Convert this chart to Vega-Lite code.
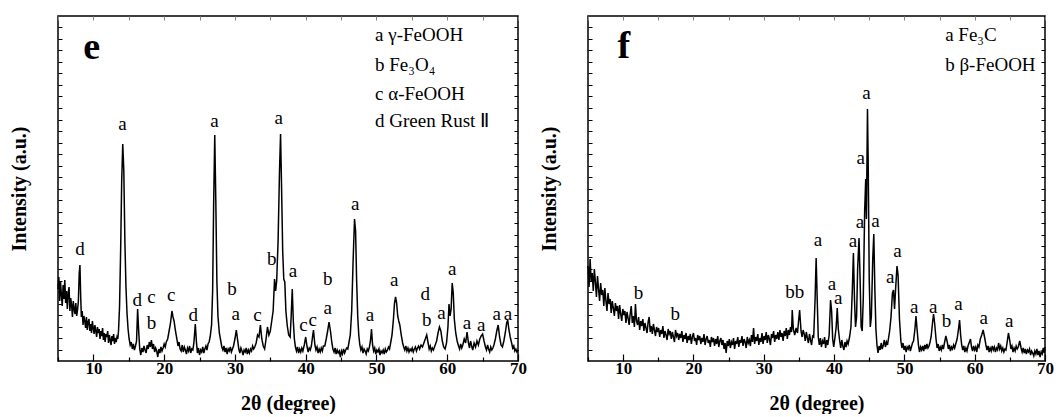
{
"$schema": "https://vega.github.io/schema/vega-lite/v6.json",
"background": "white",
"padding": {"left": 8, "top": 14, "right": 0, "bottom": 0},
"bounds": "flush",
"spacing": 70,
"config": {"view": {"stroke": "black", "strokeWidth": 1.5}, "axis": {"domain": false, "grid": false}, "text": {"font": "Liberation Serif"}},
"datasets": {
"specE": [
{"t":5.0,"i":72},{"t":5.12,"i":84},{"t":5.24,"i":60},{"t":5.36,"i":79},{"t":5.48,"i":66},{"t":5.6,"i":55},{"t":5.72,"i":76},{"t":5.84,"i":62},{"t":5.96,"i":81},{"t":6.08,"i":58},{"t":6.2,"i":70},{"t":6.32,"i":52},{"t":6.44,"i":68},{"t":6.56,"i":74},{"t":6.68,"i":50},{"t":6.8,"i":63},{"t":6.92,"i":56},{"t":7.04,"i":44},{"t":7.16,"i":60},{"t":7.28,"i":52},{"t":7.4,"i":47},{"t":7.52,"i":58},{"t":7.64,"i":45},{"t":7.76,"i":51},{"t":7.88,"i":60},{"t":8.0,"i":88},{"t":8.1,"i":96},{"t":8.2,"i":66},{"t":8.3,"i":44},{"t":8.42,"i":50},{"t":8.54,"i":36},{"t":8.66,"i":45},{"t":8.78,"i":40},{"t":8.9,"i":33},{"t":9.02,"i":44},{"t":9.14,"i":31},{"t":9.26,"i":39},{"t":9.38,"i":42},{"t":9.5,"i":30},{"t":9.62,"i":37},{"t":9.74,"i":28},{"t":9.86,"i":40},{"t":9.98,"i":33},{"t":10.1,"i":27},{"t":10.22,"i":36},{"t":10.34,"i":30},{"t":10.46,"i":24},{"t":10.58,"i":34},{"t":10.7,"i":28},{"t":10.82,"i":32},{"t":10.94,"i":22},{"t":11.06,"i":30},{"t":11.18,"i":25},{"t":11.3,"i":33},{"t":11.42,"i":21},{"t":11.54,"i":28},{"t":11.66,"i":19},{"t":11.78,"i":27},{"t":11.9,"i":24},{"t":12.02,"i":30},{"t":12.14,"i":18},{"t":12.26,"i":26},{"t":12.38,"i":21},{"t":12.5,"i":16},{"t":12.62,"i":25},{"t":12.74,"i":20},{"t":12.86,"i":27},{"t":12.98,"i":17},{"t":13.1,"i":23},{"t":13.22,"i":19},{"t":13.34,"i":24},{"t":13.45,"i":22},{"t":13.55,"i":30},{"t":13.7,"i":55},{"t":13.85,"i":110},{"t":14.0,"i":180},{"t":14.15,"i":217},{"t":14.3,"i":190},{"t":14.45,"i":120},{"t":14.6,"i":75},{"t":14.75,"i":48},{"t":14.9,"i":32},{"t":15.05,"i":22},{"t":15.2,"i":16},{"t":15.35,"i":19},{"t":15.5,"i":12},{"t":15.65,"i":17},{"t":15.8,"i":11},{"t":15.95,"i":15},{"t":16.1,"i":20},{"t":16.25,"i":52},{"t":16.4,"i":30},{"t":16.55,"i":12},{"t":16.7,"i":6},{"t":16.85,"i":13},{"t":17.0,"i":9},{"t":17.15,"i":15},{"t":17.3,"i":11},{"t":17.45,"i":8},{"t":17.6,"i":16},{"t":17.75,"i":12},{"t":17.9,"i":19},{"t":18.05,"i":14},{"t":18.2,"i":21},{"t":18.35,"i":12},{"t":18.5,"i":17},{"t":18.65,"i":9},{"t":18.8,"i":13},{"t":18.95,"i":10},{"t":19.1,"i":4},{"t":19.25,"i":12},{"t":19.4,"i":8},{"t":19.55,"i":14},{"t":19.7,"i":10},{"t":19.85,"i":13},{"t":20.0,"i":17},{"t":20.15,"i":14},{"t":20.3,"i":19},{"t":20.5,"i":22},{"t":20.7,"i":30},{"t":20.9,"i":38},{"t":21.1,"i":50},{"t":21.25,"i":44},{"t":21.4,"i":40},{"t":21.6,"i":30},{"t":21.8,"i":22},{"t":21.95,"i":15},{"t":22.1,"i":19},{"t":22.25,"i":12},{"t":22.4,"i":10},{"t":22.55,"i":16},{"t":22.7,"i":9},{"t":22.85,"i":14},{"t":23.0,"i":11},{"t":23.15,"i":7},{"t":23.3,"i":13},{"t":23.45,"i":10},{"t":23.6,"i":15},{"t":23.75,"i":8},{"t":23.9,"i":12},{"t":24.05,"i":11},{"t":24.2,"i":18},{"t":24.4,"i":37},{"t":24.55,"i":20},{"t":24.7,"i":8},{"t":24.85,"i":13},{"t":25.0,"i":6},{"t":25.15,"i":11},{"t":25.3,"i":9},{"t":25.45,"i":14},{"t":25.6,"i":8},{"t":25.75,"i":12},{"t":25.9,"i":15},{"t":26.05,"i":11},{"t":26.2,"i":17},{"t":26.35,"i":19},{"t":26.5,"i":24},{"t":26.7,"i":36},{"t":26.85,"i":70},{"t":27.0,"i":160},{"t":27.15,"i":226},{"t":27.3,"i":160},{"t":27.45,"i":80},{"t":27.6,"i":45},{"t":27.8,"i":28},{"t":28.0,"i":20},{"t":28.15,"i":14},{"t":28.3,"i":11},{"t":28.45,"i":15},{"t":28.6,"i":9},{"t":28.75,"i":13},{"t":28.9,"i":7},{"t":29.05,"i":12},{"t":29.2,"i":10},{"t":29.35,"i":14},{"t":29.5,"i":9},{"t":29.65,"i":12},{"t":29.8,"i":15},{"t":30.0,"i":22},{"t":30.2,"i":31},{"t":30.4,"i":20},{"t":30.55,"i":12},{"t":30.7,"i":8},{"t":30.85,"i":13},{"t":31.0,"i":10},{"t":31.15,"i":6},{"t":31.3,"i":11},{"t":31.45,"i":9},{"t":31.6,"i":13},{"t":31.75,"i":7},{"t":31.9,"i":11},{"t":32.05,"i":8},{"t":32.2,"i":12},{"t":32.35,"i":10},{"t":32.5,"i":15},{"t":32.65,"i":12},{"t":32.8,"i":14},{"t":33.0,"i":18},{"t":33.2,"i":26},{"t":33.4,"i":24},{"t":33.6,"i":36},{"t":33.8,"i":22},{"t":34.0,"i":15},{"t":34.2,"i":12},{"t":34.4,"i":22},{"t":34.6,"i":34},{"t":34.8,"i":26},{"t":35.0,"i":30},{"t":35.2,"i":40},{"t":35.4,"i":50},{"t":35.6,"i":82},{"t":35.75,"i":70},{"t":35.9,"i":80},{"t":36.1,"i":120},{"t":36.3,"i":190},{"t":36.45,"i":227},{"t":36.6,"i":170},{"t":36.75,"i":110},{"t":36.9,"i":82},{"t":37.05,"i":79},{"t":37.2,"i":50},{"t":37.4,"i":35},{"t":37.6,"i":26},{"t":37.8,"i":24},{"t":37.95,"i":45},{"t":38.1,"i":72},{"t":38.25,"i":40},{"t":38.4,"i":22},{"t":38.55,"i":14},{"t":38.7,"i":10},{"t":38.85,"i":14},{"t":39.0,"i":8},{"t":39.15,"i":12},{"t":39.3,"i":9},{"t":39.45,"i":13},{"t":39.6,"i":10},{"t":39.8,"i":16},{"t":40.0,"i":24},{"t":40.2,"i":14},{"t":40.35,"i":9},{"t":40.5,"i":13},{"t":40.65,"i":11},{"t":40.8,"i":15},{"t":41.0,"i":26},{"t":41.1,"i":31},{"t":41.3,"i":16},{"t":41.45,"i":11},{"t":41.6,"i":14},{"t":41.75,"i":8},{"t":41.9,"i":12},{"t":42.05,"i":9},{"t":42.2,"i":13},{"t":42.35,"i":10},{"t":42.5,"i":15},{"t":42.7,"i":15},{"t":42.9,"i":22},{"t":43.1,"i":30},{"t":43.3,"i":39},{"t":43.5,"i":30},{"t":43.7,"i":18},{"t":43.85,"i":12},{"t":44.0,"i":9},{"t":44.15,"i":13},{"t":44.3,"i":7},{"t":44.45,"i":11},{"t":44.6,"i":8},{"t":44.75,"i":10},{"t":44.9,"i":4},{"t":45.05,"i":10},{"t":45.2,"i":7},{"t":45.35,"i":12},{"t":45.5,"i":8},{"t":45.65,"i":11},{"t":45.8,"i":13},{"t":45.95,"i":12},{"t":46.1,"i":18},{"t":46.3,"i":26},{"t":46.5,"i":50},{"t":46.7,"i":100},{"t":46.9,"i":142},{"t":47.05,"i":130},{"t":47.2,"i":80},{"t":47.35,"i":45},{"t":47.5,"i":26},{"t":47.65,"i":16},{"t":47.8,"i":11},{"t":47.95,"i":14},{"t":48.1,"i":8},{"t":48.25,"i":12},{"t":48.4,"i":10},{"t":48.55,"i":7},{"t":48.7,"i":12},{"t":48.85,"i":10},{"t":49.0,"i":14},{"t":49.15,"i":20},{"t":49.3,"i":32},{"t":49.45,"i":16},{"t":49.6,"i":10},{"t":49.75,"i":13},{"t":49.9,"i":7},{"t":50.05,"i":11},{"t":50.2,"i":9},{"t":50.35,"i":12},{"t":50.5,"i":6},{"t":50.65,"i":10},{"t":50.8,"i":8},{"t":50.95,"i":11},{"t":51.1,"i":7},{"t":51.25,"i":12},{"t":51.4,"i":9},{"t":51.55,"i":11},{"t":51.7,"i":14},{"t":51.85,"i":12},{"t":52.0,"i":18},{"t":52.2,"i":26},{"t":52.4,"i":42},{"t":52.55,"i":58},{"t":52.7,"i":64},{"t":52.85,"i":58},{"t":53.0,"i":45},{"t":53.15,"i":40},{"t":53.3,"i":36},{"t":53.5,"i":26},{"t":53.7,"i":18},{"t":53.85,"i":14},{"t":54.0,"i":11},{"t":54.15,"i":15},{"t":54.3,"i":10},{"t":54.45,"i":13},{"t":54.6,"i":9},{"t":54.75,"i":12},{"t":54.9,"i":10},{"t":55.05,"i":13},{"t":55.2,"i":9},{"t":55.35,"i":12},{"t":55.5,"i":14},{"t":55.65,"i":10},{"t":55.8,"i":13},{"t":55.95,"i":15},{"t":56.1,"i":12},{"t":56.3,"i":16},{"t":56.5,"i":14},{"t":56.7,"i":18},{"t":56.9,"i":22},{"t":57.1,"i":26},{"t":57.3,"i":18},{"t":57.45,"i":12},{"t":57.6,"i":15},{"t":57.75,"i":10},{"t":57.9,"i":13},{"t":58.05,"i":11},{"t":58.2,"i":14},{"t":58.35,"i":17},{"t":58.5,"i":20},{"t":58.7,"i":28},{"t":58.9,"i":34},{"t":59.1,"i":30},{"t":59.3,"i":20},{"t":59.5,"i":14},{"t":59.7,"i":12},{"t":59.9,"i":18},{"t":60.1,"i":34},{"t":60.25,"i":57},{"t":60.4,"i":45},{"t":60.55,"i":52},{"t":60.7,"i":78},{"t":60.85,"i":68},{"t":61.0,"i":42},{"t":61.2,"i":28},{"t":61.4,"i":20},{"t":61.6,"i":15},{"t":61.75,"i":12},{"t":61.9,"i":17},{"t":62.05,"i":13},{"t":62.2,"i":16},{"t":62.4,"i":22},{"t":62.6,"i":18},{"t":62.8,"i":29},{"t":63.0,"i":18},{"t":63.15,"i":13},{"t":63.3,"i":20},{"t":63.45,"i":15},{"t":63.6,"i":11},{"t":63.8,"i":18},{"t":64.0,"i":14},{"t":64.2,"i":20},{"t":64.4,"i":16},{"t":64.6,"i":22},{"t":64.8,"i":25},{"t":65.0,"i":27},{"t":65.2,"i":20},{"t":65.4,"i":14},{"t":65.55,"i":11},{"t":65.7,"i":16},{"t":65.85,"i":12},{"t":66.0,"i":9},{"t":66.15,"i":14},{"t":66.3,"i":11},{"t":66.45,"i":13},{"t":66.6,"i":16},{"t":66.8,"i":22},{"t":67.0,"i":30},{"t":67.2,"i":36},{"t":67.4,"i":24},{"t":67.6,"i":16},{"t":67.8,"i":14},{"t":68.0,"i":20},{"t":68.2,"i":28},{"t":68.4,"i":38},{"t":68.55,"i":41},{"t":68.7,"i":32},{"t":68.9,"i":24},{"t":69.1,"i":18},{"t":69.25,"i":13},{"t":69.4,"i":15},{"t":69.55,"i":10},{"t":69.7,"i":12},{"t":69.85,"i":9},{"t":70.0,"i":11}
],
"specF": [
{"t":5.0,"i":95},{"t":5.15,"i":74},{"t":5.3,"i":102},{"t":5.45,"i":80},{"t":5.6,"i":88},{"t":5.75,"i":70},{"t":5.9,"i":92},{"t":6.05,"i":79},{"t":6.2,"i":64},{"t":6.35,"i":85},{"t":6.5,"i":72},{"t":6.65,"i":60},{"t":6.8,"i":78},{"t":6.95,"i":66},{"t":7.1,"i":71},{"t":7.25,"i":55},{"t":7.4,"i":73},{"t":7.55,"i":60},{"t":7.7,"i":50},{"t":7.85,"i":68},{"t":8.0,"i":57},{"t":8.15,"i":62},{"t":8.3,"i":48},{"t":8.45,"i":60},{"t":8.6,"i":53},{"t":8.75,"i":45},{"t":8.9,"i":58},{"t":9.05,"i":50},{"t":9.2,"i":55},{"t":9.35,"i":42},{"t":9.5,"i":56},{"t":9.65,"i":47},{"t":9.8,"i":40},{"t":9.95,"i":52},{"t":10.1,"i":46},{"t":10.25,"i":50},{"t":10.4,"i":38},{"t":10.55,"i":49},{"t":10.7,"i":43},{"t":10.85,"i":36},{"t":11.0,"i":47},{"t":11.15,"i":55},{"t":11.3,"i":38},{"t":11.45,"i":45},{"t":11.6,"i":34},{"t":11.75,"i":57},{"t":11.9,"i":40},{"t":12.05,"i":36},{"t":12.2,"i":44},{"t":12.35,"i":31},{"t":12.5,"i":40},{"t":12.65,"i":35},{"t":12.8,"i":42},{"t":12.95,"i":30},{"t":13.1,"i":38},{"t":13.25,"i":33},{"t":13.4,"i":28},{"t":13.55,"i":39},{"t":13.7,"i":44},{"t":13.85,"i":29},{"t":14.0,"i":35},{"t":14.15,"i":27},{"t":14.3,"i":37},{"t":14.45,"i":31},{"t":14.6,"i":25},{"t":14.75,"i":34},{"t":14.9,"i":29},{"t":15.05,"i":33},{"t":15.2,"i":24},{"t":15.35,"i":31},{"t":15.5,"i":27},{"t":15.65,"i":35},{"t":15.8,"i":23},{"t":15.95,"i":30},{"t":16.1,"i":26},{"t":16.25,"i":21},{"t":16.4,"i":32},{"t":16.55,"i":27},{"t":16.7,"i":30},{"t":16.85,"i":22},{"t":17.0,"i":29},{"t":17.15,"i":24},{"t":17.3,"i":19},{"t":17.45,"i":31},{"t":17.6,"i":25},{"t":17.75,"i":28},{"t":17.9,"i":21},{"t":18.05,"i":27},{"t":18.2,"i":23},{"t":18.35,"i":30},{"t":18.5,"i":19},{"t":18.65,"i":26},{"t":18.8,"i":22},{"t":18.95,"i":28},{"t":19.1,"i":18},{"t":19.25,"i":25},{"t":19.4,"i":21},{"t":19.55,"i":27},{"t":19.7,"i":17},{"t":19.85,"i":24},{"t":20.0,"i":28},{"t":20.15,"i":20},{"t":20.3,"i":23},{"t":20.45,"i":16},{"t":20.6,"i":26},{"t":20.75,"i":21},{"t":20.9,"i":25},{"t":21.05,"i":17},{"t":21.2,"i":23},{"t":21.35,"i":19},{"t":21.5,"i":27},{"t":21.65,"i":16},{"t":21.8,"i":22},{"t":21.95,"i":25},{"t":22.1,"i":18},{"t":22.25,"i":21},{"t":22.4,"i":14},{"t":22.55,"i":24},{"t":22.7,"i":19},{"t":22.85,"i":23},{"t":23.0,"i":15},{"t":23.15,"i":22},{"t":23.3,"i":17},{"t":23.45,"i":25},{"t":23.6,"i":14},{"t":23.75,"i":20},{"t":23.9,"i":23},{"t":24.05,"i":16},{"t":24.2,"i":21},{"t":24.35,"i":12},{"t":24.5,"i":18},{"t":24.65,"i":8},{"t":24.8,"i":20},{"t":24.95,"i":15},{"t":25.1,"i":22},{"t":25.25,"i":13},{"t":25.4,"i":19},{"t":25.55,"i":16},{"t":25.7,"i":23},{"t":25.85,"i":12},{"t":26.0,"i":20},{"t":26.15,"i":17},{"t":26.3,"i":24},{"t":26.45,"i":14},{"t":26.6,"i":21},{"t":26.75,"i":18},{"t":26.9,"i":25},{"t":27.05,"i":15},{"t":27.2,"i":22},{"t":27.35,"i":19},{"t":27.5,"i":13},{"t":27.65,"i":24},{"t":27.8,"i":18},{"t":27.95,"i":21},{"t":28.1,"i":15},{"t":28.25,"i":26},{"t":28.4,"i":19},{"t":28.55,"i":33},{"t":28.7,"i":17},{"t":28.85,"i":24},{"t":29.0,"i":20},{"t":29.15,"i":27},{"t":29.3,"i":16},{"t":29.45,"i":23},{"t":29.6,"i":19},{"t":29.75,"i":28},{"t":29.9,"i":17},{"t":30.05,"i":25},{"t":30.2,"i":21},{"t":30.35,"i":29},{"t":30.5,"i":18},{"t":30.65,"i":26},{"t":30.8,"i":22},{"t":30.95,"i":16},{"t":31.1,"i":27},{"t":31.25,"i":23},{"t":31.4,"i":30},{"t":31.55,"i":19},{"t":31.7,"i":26},{"t":31.85,"i":22},{"t":32.0,"i":29},{"t":32.15,"i":21},{"t":32.3,"i":31},{"t":32.45,"i":24},{"t":32.6,"i":28},{"t":32.75,"i":20},{"t":32.9,"i":30},{"t":33.05,"i":25},{"t":33.2,"i":33},{"t":33.35,"i":22},{"t":33.5,"i":31},{"t":33.65,"i":26},{"t":33.8,"i":34},{"t":33.95,"i":29},{"t":34.05,"i":51},{"t":34.2,"i":32},{"t":34.4,"i":26},{"t":34.6,"i":33},{"t":34.8,"i":28},{"t":34.95,"i":40},{"t":35.1,"i":51},{"t":35.3,"i":30},{"t":35.45,"i":24},{"t":35.6,"i":31},{"t":35.75,"i":27},{"t":35.9,"i":20},{"t":36.05,"i":29},{"t":36.2,"i":23},{"t":36.35,"i":18},{"t":36.5,"i":27},{"t":36.65,"i":21},{"t":36.8,"i":16},{"t":36.95,"i":25},{"t":37.1,"i":24},{"t":37.3,"i":62},{"t":37.45,"i":103},{"t":37.6,"i":62},{"t":37.75,"i":24},{"t":37.9,"i":16},{"t":38.05,"i":23},{"t":38.2,"i":14},{"t":38.35,"i":20},{"t":38.5,"i":17},{"t":38.65,"i":24},{"t":38.8,"i":13},{"t":38.95,"i":21},{"t":39.1,"i":16},{"t":39.3,"i":26},{"t":39.5,"i":61},{"t":39.65,"i":50},{"t":39.8,"i":22},{"t":39.95,"i":14},{"t":40.1,"i":22},{"t":40.3,"i":34},{"t":40.45,"i":53},{"t":40.6,"i":32},{"t":40.8,"i":20},{"t":40.95,"i":13},{"t":41.1,"i":21},{"t":41.25,"i":15},{"t":41.4,"i":11},{"t":41.55,"i":19},{"t":41.7,"i":14},{"t":41.85,"i":20},{"t":42.0,"i":17},{"t":42.2,"i":24},{"t":42.4,"i":34},{"t":42.6,"i":72},{"t":42.75,"i":108},{"t":42.9,"i":62},{"t":43.05,"i":34},{"t":43.2,"i":44},{"t":43.35,"i":92},{"t":43.55,"i":123},{"t":43.7,"i":82},{"t":43.85,"i":34},{"t":44.0,"i":30},{"t":44.15,"i":62},{"t":44.35,"i":150},{"t":44.5,"i":182},{"t":44.6,"i":142},{"t":44.75,"i":252},{"t":44.85,"i":200},{"t":45.0,"i":82},{"t":45.15,"i":34},{"t":45.3,"i":44},{"t":45.5,"i":102},{"t":45.65,"i":127},{"t":45.8,"i":72},{"t":45.95,"i":32},{"t":46.1,"i":16},{"t":46.25,"i":8},{"t":46.4,"i":15},{"t":46.55,"i":11},{"t":46.7,"i":18},{"t":46.85,"i":12},{"t":47.0,"i":16},{"t":47.15,"i":21},{"t":47.3,"i":14},{"t":47.45,"i":19},{"t":47.6,"i":16},{"t":47.75,"i":23},{"t":47.9,"i":30},{"t":48.1,"i":44},{"t":48.3,"i":68},{"t":48.45,"i":71},{"t":48.6,"i":52},{"t":48.75,"i":72},{"t":48.95,"i":95},{"t":49.1,"i":86},{"t":49.3,"i":42},{"t":49.5,"i":20},{"t":49.65,"i":13},{"t":49.8,"i":18},{"t":49.95,"i":11},{"t":50.1,"i":15},{"t":50.25,"i":9},{"t":50.4,"i":14},{"t":50.55,"i":12},{"t":50.7,"i":16},{"t":50.85,"i":10},{"t":51.0,"i":14},{"t":51.15,"i":18},{"t":51.3,"i":20},{"t":51.5,"i":32},{"t":51.65,"i":45},{"t":51.8,"i":32},{"t":52.0,"i":16},{"t":52.15,"i":9},{"t":52.3,"i":14},{"t":52.45,"i":11},{"t":52.6,"i":15},{"t":52.75,"i":10},{"t":52.9,"i":16},{"t":53.05,"i":12},{"t":53.2,"i":17},{"t":53.35,"i":13},{"t":53.5,"i":15},{"t":53.65,"i":19},{"t":53.8,"i":24},{"t":54.0,"i":38},{"t":54.15,"i":47},{"t":54.3,"i":38},{"t":54.5,"i":22},{"t":54.65,"i":13},{"t":54.8,"i":17},{"t":54.95,"i":10},{"t":55.1,"i":14},{"t":55.25,"i":11},{"t":55.4,"i":16},{"t":55.55,"i":12},{"t":55.7,"i":18},{"t":55.9,"i":25},{"t":56.1,"i":19},{"t":56.25,"i":12},{"t":56.4,"i":16},{"t":56.55,"i":10},{"t":56.7,"i":14},{"t":56.85,"i":12},{"t":57.0,"i":16},{"t":57.15,"i":13},{"t":57.3,"i":17},{"t":57.5,"i":22},{"t":57.7,"i":32},{"t":57.85,"i":41},{"t":58.0,"i":26},{"t":58.15,"i":16},{"t":58.3,"i":11},{"t":58.45,"i":15},{"t":58.6,"i":9},{"t":58.75,"i":13},{"t":58.9,"i":10},{"t":59.05,"i":15},{"t":59.2,"i":18},{"t":59.4,"i":22},{"t":59.55,"i":14},{"t":59.7,"i":10},{"t":59.85,"i":15},{"t":60.0,"i":11},{"t":60.15,"i":14},{"t":60.3,"i":9},{"t":60.45,"i":16},{"t":60.6,"i":14},{"t":60.8,"i":22},{"t":61.0,"i":26},{"t":61.2,"i":31},{"t":61.4,"i":24},{"t":61.6,"i":16},{"t":61.75,"i":11},{"t":61.9,"i":15},{"t":62.05,"i":9},{"t":62.2,"i":13},{"t":62.35,"i":10},{"t":62.5,"i":15},{"t":62.65,"i":11},{"t":62.8,"i":14},{"t":62.95,"i":9},{"t":63.1,"i":13},{"t":63.25,"i":11},{"t":63.4,"i":18},{"t":63.55,"i":12},{"t":63.7,"i":15},{"t":63.85,"i":10},{"t":64.0,"i":13},{"t":64.15,"i":9},{"t":64.3,"i":12},{"t":64.45,"i":11},{"t":64.6,"i":18},{"t":64.8,"i":28},{"t":65.0,"i":20},{"t":65.15,"i":12},{"t":65.3,"i":15},{"t":65.45,"i":9},{"t":65.6,"i":13},{"t":65.75,"i":10},{"t":65.9,"i":15},{"t":66.05,"i":12},{"t":66.2,"i":14},{"t":66.4,"i":20},{"t":66.6,"i":13},{"t":66.75,"i":9},{"t":66.9,"i":13},{"t":67.05,"i":8},{"t":67.2,"i":12},{"t":67.35,"i":7},{"t":67.5,"i":11},{"t":67.65,"i":9},{"t":67.8,"i":12},{"t":67.95,"i":6},{"t":68.1,"i":10},{"t":68.25,"i":8},{"t":68.4,"i":5},{"t":68.55,"i":10},{"t":68.7,"i":7},{"t":68.85,"i":12},{"t":69.0,"i":6},{"t":69.15,"i":10},{"t":69.3,"i":4},{"t":69.45,"i":9},{"t":69.6,"i":7},{"t":69.75,"i":13},{"t":69.9,"i":8},{"t":70.0,"i":14}
],
"labE": [
{"t":8.1,"i":112,"s":"d"},{"t":14.1,"i":237,"s":"a"},{"t":16.2,"i":61,"s":"d"},{"t":18.2,"i":64,"s":"c"},{"t":18.2,"i":38,"s":"b"},{"t":21.0,"i":66,"s":"c"},{"t":24.1,"i":46,"s":"d"},{"t":27.1,"i":240,"s":"a"},{"t":29.6,"i":72,"s":"b"},{"t":30.1,"i":47,"s":"a"},{"t":33.2,"i":46,"s":"c"},{"t":35.2,"i":102,"s":"b"},{"t":36.2,"i":243,"s":"a"},{"t":38.2,"i":90,"s":"a"},{"t":39.7,"i":36,"s":"c"},{"t":41.0,"i":41,"s":"c"},{"t":43.1,"i":82,"s":"b"},{"t":43.1,"i":53,"s":"a"},{"t":47.0,"i":157,"s":"a"},{"t":49.1,"i":46,"s":"a"},{"t":52.5,"i":81,"s":"a"},{"t":56.9,"i":67,"s":"d"},{"t":57.1,"i":41,"s":"b"},{"t":59.2,"i":48,"s":"a"},{"t":60.7,"i":92,"s":"a"},{"t":62.8,"i":38,"s":"a"},{"t":64.8,"i":36,"s":"a"},{"t":67.0,"i":47,"s":"a"},{"t":68.6,"i":47,"s":"a"}
],
"labF": [
{"t":12.2,"i":68,"s":"b"},{"t":17.4,"i":47,"s":"b"},{"t":34.4,"i":69,"s":"bb"},{"t":37.7,"i":121,"s":"a"},{"t":39.7,"i":77,"s":"a"},{"t":40.6,"i":63,"s":"a"},{"t":42.7,"i":120,"s":"a"},{"t":43.7,"i":139,"s":"a"},{"t":43.8,"i":203,"s":"a"},{"t":44.6,"i":268,"s":"a"},{"t":45.9,"i":140,"s":"a"},{"t":48.0,"i":84,"s":"a"},{"t":49.0,"i":110,"s":"a"},{"t":51.4,"i":54,"s":"a"},{"t":54.1,"i":54,"s":"a"},{"t":56.0,"i":40,"s":"b"},{"t":57.7,"i":57,"s":"a"},{"t":61.3,"i":43,"s":"a"},{"t":64.9,"i":40,"s":"a"}
],
"legE": [
{"t":49.8,"i":326,"s":"a γ-FeOOH"},{"t":49.8,"i":296,"s":"b Fe₃O₄"},{"t":49.8,"i":267,"s":"c α-FeOOH"},{"t":49.8,"i":240,"s":"d Green Rust Ⅱ"}
],
"legF": [
{"t":55.8,"i":326,"s":"a Fe₃C"},{"t":55.8,"i":296,"s":"b β-FeOOH"}
],
"tagE": [{"t":9.77,"i":313,"s":"e"}],
"tagF": [{"t":10.1,"i":314,"s":"f"}]
},
"hconcat": [
{
"width": 460, "height": 345,
"resolve": {"axis": {"x": "independent", "y": "independent"}},
"layer": [
{"data": {"name": "specE"}, "mark": {"type": "line", "color": "black", "strokeWidth": 1.5},
 "encoding": {
  "x": {"field": "t", "type": "quantitative", "scale": {"domain": [5, 70], "nice": false, "zero": false},
   "axis": {"orient": "bottom", "values": [5,10,15,20,25,30,35,40,45,50,55,60,65,70], "labelExpr": "datum.value % 10 === 0 ? datum.label : ''",
    "tickSize": {"condition": {"test": "datum.value % 10 === 0", "value": -7}, "value": -4}, "tickColor": "black", "tickWidth": 1.2,
    "labelFont": "Liberation Serif", "labelFontSize": 17, "labelFontWeight": "bold", "labelColor": "black", "labelPadding": 6, "labelFlush": false, "labelOverlap": false,
    "title": "2θ (degree)", "titleFont": "Liberation Serif", "titleFontSize": 20, "titleFontWeight": "bold", "titleColor": "black", "titlePadding": 14}},
  "y": {"field": "i", "type": "quantitative", "scale": {"domain": [0, 345], "nice": false},
   "axis": {"orient": "left", "labels": false, "values": [11.5,23,34.5,46,57.5,69,80.5,92,103.5,115,126.5,138,149.5,161,172.5,184,195.5,207,218.5,230,241.5,253,264.5,276,287.5,299,310.5,322,333.5],
    "tickSize": -4, "tickColor": "black", "tickWidth": 1,
    "title": "Intensity (a.u.)", "titleFont": "Liberation Serif", "titleFontSize": 20, "titleFontWeight": "bold", "titleColor": "black", "titlePadding": 28}}
 }},
{"data": {"name": "labE"}, "mark": {"type": "text", "font": "Liberation Serif", "fontSize": 19, "color": "black", "align": "center", "baseline": "middle"},
 "encoding": {
  "x": {"field": "t", "type": "quantitative", "scale": {"domain": [5, 70], "nice": false, "zero": false},
   "axis": {"orient": "top", "labels": false, "title": null, "values": [5,10,15,20,25,30,35,40,45,50,55,60,65,70], "tickSize": -4, "tickColor": "#888888", "tickWidth": 1}},
  "y": {"field": "i", "type": "quantitative", "scale": {"domain": [0, 345], "nice": false},
   "axis": {"orient": "right", "labels": false, "title": null, "values": [11.5,23,34.5,46,57.5,69,80.5,92,103.5,115,126.5,138,149.5,161,172.5,184,195.5,207,218.5,230,241.5,253,264.5,276,287.5,299,310.5,322,333.5], "tickSize": -4, "tickColor": "black", "tickWidth": 1}},
  "text": {"field": "s"}
 }},
{"data": {"name": "legE"}, "mark": {"type": "text", "font": "Liberation Serif", "fontSize": 19, "color": "black", "align": "left", "baseline": "middle"},
 "encoding": {
  "x": {"field": "t", "type": "quantitative", "axis": null},
  "y": {"field": "i", "type": "quantitative", "axis": null},
  "text": {"field": "s"}
 }},
{"data": {"name": "tagE"}, "mark": {"type": "text", "font": "Liberation Serif", "fontSize": 38, "fontWeight": "bold", "color": "black", "align": "center", "baseline": "middle"},
 "encoding": {
  "x": {"field": "t", "type": "quantitative", "axis": null},
  "y": {"field": "i", "type": "quantitative", "axis": null},
  "text": {"field": "s"}
 }}
]
},
{
"width": 457, "height": 345,
"resolve": {"axis": {"x": "independent", "y": "independent"}},
"layer": [
{"data": {"name": "specF"}, "mark": {"type": "line", "color": "black", "strokeWidth": 1.5},
 "encoding": {
  "x": {"field": "t", "type": "quantitative", "scale": {"domain": [5, 70], "nice": false, "zero": false},
   "axis": {"orient": "bottom", "values": [5,10,15,20,25,30,35,40,45,50,55,60,65,70], "labelExpr": "datum.value % 10 === 0 ? datum.label : ''",
    "tickSize": {"condition": {"test": "datum.value % 10 === 0", "value": -7}, "value": -4}, "tickColor": "black", "tickWidth": 1.2,
    "labelFont": "Liberation Serif", "labelFontSize": 17, "labelFontWeight": "bold", "labelColor": "black", "labelPadding": 6, "labelFlush": false, "labelOverlap": false,
    "title": "2θ (degree)", "titleFont": "Liberation Serif", "titleFontSize": 20, "titleFontWeight": "bold", "titleColor": "black", "titlePadding": 14}},
  "y": {"field": "i", "type": "quantitative", "scale": {"domain": [0, 345], "nice": false},
   "axis": {"orient": "left", "labels": false, "values": [11.5,23,34.5,46,57.5,69,80.5,92,103.5,115,126.5,138,149.5,161,172.5,184,195.5,207,218.5,230,241.5,253,264.5,276,287.5,299,310.5,322,333.5],
    "tickSize": -4, "tickColor": "black", "tickWidth": 1,
    "title": "Intensity (a.u.)", "titleFont": "Liberation Serif", "titleFontSize": 20, "titleFontWeight": "bold", "titleColor": "black", "titlePadding": 28}}
 }},
{"data": {"name": "labF"}, "mark": {"type": "text", "font": "Liberation Serif", "fontSize": 19, "color": "black", "align": "center", "baseline": "middle"},
 "encoding": {
  "x": {"field": "t", "type": "quantitative", "scale": {"domain": [5, 70], "nice": false, "zero": false},
   "axis": {"orient": "top", "labels": false, "title": null, "values": [5,10,15,20,25,30,35,40,45,50,55,60,65,70], "tickSize": -4, "tickColor": "#888888", "tickWidth": 1}},
  "y": {"field": "i", "type": "quantitative", "scale": {"domain": [0, 345], "nice": false},
   "axis": {"orient": "right", "labels": false, "title": null, "values": [11.5,23,34.5,46,57.5,69,80.5,92,103.5,115,126.5,138,149.5,161,172.5,184,195.5,207,218.5,230,241.5,253,264.5,276,287.5,299,310.5,322,333.5], "tickSize": -4, "tickColor": "black", "tickWidth": 1}},
  "text": {"field": "s"}
 }},
{"data": {"name": "legF"}, "mark": {"type": "text", "font": "Liberation Serif", "fontSize": 19, "color": "black", "align": "left", "baseline": "middle"},
 "encoding": {
  "x": {"field": "t", "type": "quantitative", "axis": null},
  "y": {"field": "i", "type": "quantitative", "axis": null},
  "text": {"field": "s"}
 }},
{"data": {"name": "tagF"}, "mark": {"type": "text", "font": "Liberation Serif", "fontSize": 38, "fontWeight": "bold", "color": "black", "align": "center", "baseline": "middle"},
 "encoding": {
  "x": {"field": "t", "type": "quantitative", "axis": null},
  "y": {"field": "i", "type": "quantitative", "axis": null},
  "text": {"field": "s"}
 }}
]
}
]
}
